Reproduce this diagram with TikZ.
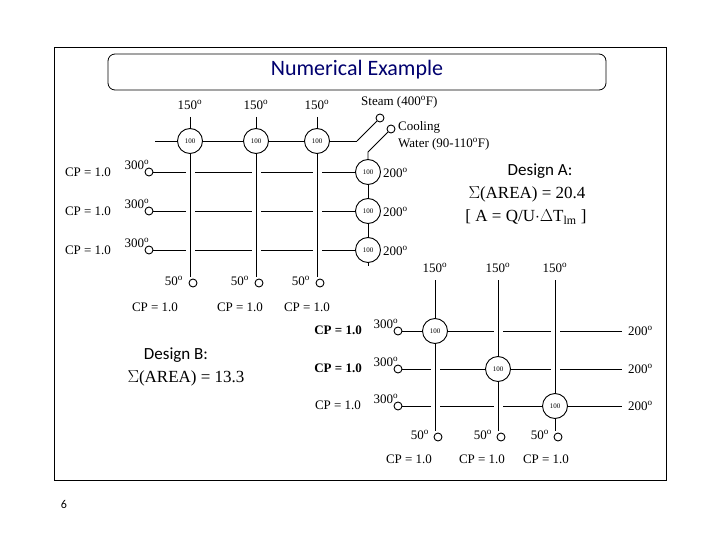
\documentclass[tikz,border=0pt]{standalone}
\usepackage{fontspec}
\setmainfont{Liberation Serif}
\newfontfamily\comic{Carlito}
\begin{document}
\begin{tikzpicture}[x=1pt,y=-1pt,
  hx/.style={circle,draw,line width=0.9pt,minimum size=25pt,inner sep=0pt,font=\fontsize{7}{7}\selectfont,fill=white},
  end/.style={circle,draw,line width=0.9pt,minimum size=8pt,inner sep=0pt,fill=white},
  lab/.style={font=\fontsize{13}{14}\selectfont,inner sep=1pt},
  ln/.style={line width=0.9pt},
  vl/.style={line width=0.9pt,preaction={draw=white,line width=9pt}}]
\useasboundingbox (0,0) rectangle (720,540);
\draw[line width=1pt] (54,48) rectangle (666,480);
\draw[rounded corners=7pt,line width=0.8pt] (108,54) rectangle (606,90);
\node[font=\comic\fontsize{22}{22}\selectfont,text={rgb,255:red,0;green,0;blue,110}] (title) at (357,70) {Numerical Example};
\node[font=\comic\fontsize{12}{12}\selectfont] (pg) at (64,504) {6};

% ---------- Design A ----------
\foreach \y/\n in {172/1,211/2,250/3}{
  \node[end] (as\n) at (149,\y) {};
  \node[hx] (ah\n) at (368,\y) {100};
  \draw[ln] (as\n) -- (ah\n);
  \node[lab,anchor=west] (at\n) at (382,\y+1) {200$^{\mathrm o}$};
  \node[lab] (ac\n) at (88,\y) {CP = 1.0};
  \node[lab] (ap\n) at (137,\y-7) {300$^{\mathrm o}$};
}
\draw[ln] (ah1) -- (ah2) -- (ah3);
\coordinate (abot) at (368,266);
\draw[ln] (ah3) -- (abot);
\coordinate (aleft) at (155,141);
\coordinate (asw) at (357,141);
\foreach \x/\n/\c in {190/1/155,256/2/240,317/3/307}{
  \node[hx] (ac\n t) at (\x,141) {100};
  \coordinate (atop\n) at (\x,117);
  \node[lab] (al\n) at (\x,105) {150$^{\mathrm o}$};
  \node[end] (ae\n) at (\x+3,283) {};
  \node[lab] (ab\n) at (\x-16,281) {50$^{\mathrm o}$};
  \node[lab] (acp\n) at (\c,307) {CP = 1.0};
  \draw[ln] (atop\n) -- (ac\n t);
  \draw[vl] (ac\n t) -- (\x,277);
}
\draw[ln] (aleft) -- (ac1t) -- (ac2t) -- (ac3t) -- (asw);
\node[end] (steam) at (380,118) {};
\draw[ln] (asw) -- (steam);
\node[end] (cool) at (391,129) {};
\coordinate (ck) at (368,152);
\draw[ln] (ah1) -- (ck) -- (cool);
\node[lab,anchor=west] (st) at (360,102) {Steam (400$^{\mathrm o}$F)};
\node[lab,anchor=west] (cw1) at (397,127) {Cooling};
\node[lab,anchor=west] (cw2) at (397,144) {Water (90-110$^{\mathrm o}$F)};

\node[font=\comic\fontsize{17}{17}\selectfont] (da) at (540,171) {Design A:};
\node[font=\fontsize{17}{17}\selectfont] (da2) at (527,194) {$\Sigma$(AREA) = 20.4};
\node[font=\fontsize{17}{17}\selectfont] (da3) at (526,217) {[ A = Q/U$\cdot\Delta$T$_{\mathrm{lm}}$ ]};

% ---------- Design B ----------
\node[font=\comic\fontsize{17}{17}\selectfont] (db) at (176,355) {Design B:};
\node[font=\fontsize{17}{17}\selectfont] (db2) at (186,378) {$\Sigma$(AREA) = 13.3};

\foreach \y/\n/\f in {331/1/\bfseries,369/2/\bfseries,406/3/}{
  \node[end] (bs\n) at (398,\y) {};
  \coordinate (be\n) at (622,\y);
  \draw[ln] (bs\n) -- (be\n);
  \node[lab,anchor=west] (bt\n) at (627,\y) {200$^{\mathrm o}$};
  \node[lab,font=\fontsize{13}{14}\selectfont\f] (bc\n) at (338,\y-1) {CP = 1.0};
  \node[lab] (bp\n) at (386,\y-7) {300$^{\mathrm o}$};
}
\foreach \x/\y/\n/\c in {435/331/1/409,498/369/2/482,555/406/3/546}{
  \coordinate (btop\n) at (\x,280);
  \node[lab] (bl\n) at (\x,268) {150$^{\mathrm o}$};
  \node[end] (bee\n) at (\x+3,437) {};
  \node[lab] (bb\n) at (\x-15,435) {50$^{\mathrm o}$};
  \node[lab] (bcp\n) at (\c,459) {CP = 1.0};
  \draw[vl] (btop\n) -- (\x,431);
}
\node[hx] (bh1) at (435,331) {100};
\node[hx] (bh2) at (498,369) {100};
\node[hx] (bh3) at (555,406) {100};
\end{tikzpicture}
\end{document}
